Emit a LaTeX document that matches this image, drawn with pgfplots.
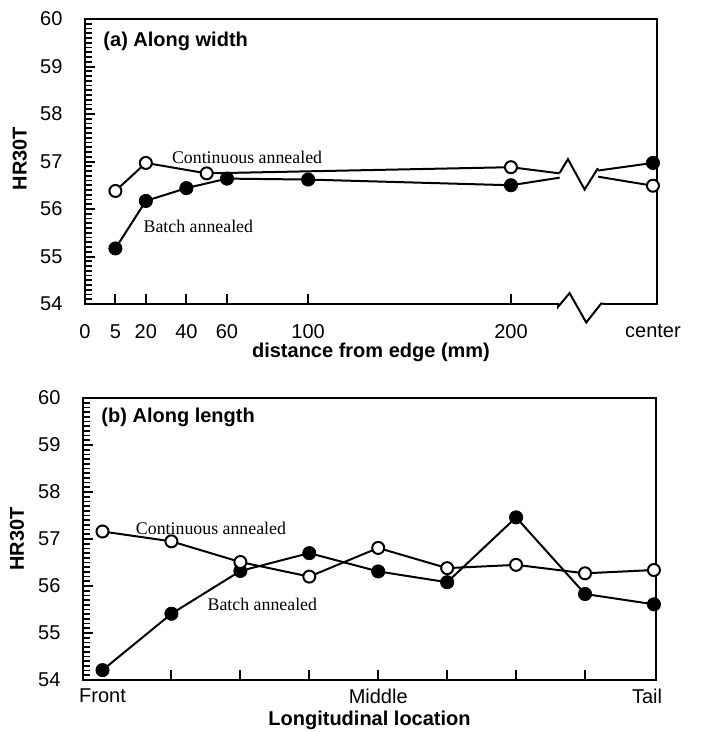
\documentclass[border=0pt]{standalone}
\usepackage{fontspec}
\setmainfont{Liberation Sans}
\newfontfamily\timesfont{Liberation Serif}
\usepackage{pgfplots}
\pgfplotsset{compat=1.18}

\pgfplotsset{
  hardness/.style={
    scale only axis,
    ymin=54, ymax=60, ytick={54,...,60},
    minor y tick num=9,
    tick align=inside, xtick pos=bottom, ytick pos=left,
    axis line style={line width=1.3pt},
    major tick style={line width=1.2pt, black},
    minor tick style={line width=1pt, black},
    major tick length=6pt, minor tick length=4pt,
    /pgf/number format/assume math mode=true,
    ticklabel style={font=\fontsize{12}{14}\selectfont},
    yticklabel style={xshift=-10pt},
    ylabel={HR30T},
    ylabel style={anchor=center, font=\bfseries\fontsize{12}{14}\selectfont},
    xlabel style={at={(axis description cs:0.5,0)}, anchor=center,
      font=\bfseries\fontsize{12}{14}\selectfont},
    clip=false,
    unbounded coords=jump,
  },
  ln/.style={black, line width=1.2pt, no marks},
  batch/.style={black, only marks, mark=*, mark size=4pt, mark options={fill=black, solid}},
  cont/.style={black, only marks, mark=*, mark size=3.6pt, mark options={fill=white, line width=1.2pt, solid}},
}
\tikzset{
  lbl/.style={anchor=west, font=\timesfont\fontsize{10.7}{12}\selectfont},
  ttl/.style={anchor=west, font=\bfseries\fontsize{12}{14}\selectfont},
}

\begin{document}
\begin{tikzpicture}
\path[use as bounding box] (-51pt,-256.8pt) rectangle (369.6pt,182.4pt);

% (a) along width
\begin{axis}[hardness, at={(0pt,0pt)}, anchor=south west,
  width=343.2pt, height=171pt,
  ylabel style={at={(axis description cs:-0.114,0.51)}},
  xmin=-10, xmax=272,
  xtick={5,20,40,60,100,200}, minor x tick num=0,
  extra x ticks={-10,270}, extra x tick labels={0,center},
  extra x tick style={major tick length=0pt},
  xticklabel style={yshift=-9pt},
  xlabel={distance from edge (mm)}, xlabel style={yshift=-29pt}]
% lines (broken at the axis break)
\addplot[ln] coordinates {(5,55.17) (20,56.17) (40,56.44) (60,56.64) (100,56.62) (200,56.5) (224,56.66) (233,nan) (243,56.81) (270,56.97)};
\addplot[ln] coordinates {(5,56.38) (20,56.97) (50,56.75) (200,56.88) (224,56.75) (233,nan) (243,56.68) (270,56.49)};
% axis break
\addplot[white, line width=3.5pt, no marks] coordinates {(223.6,54) (245.8,54)};
\addplot[ln] coordinates {(223.2,54) (223.2,53.94) (228.9,54.23) (237.1,53.61) (244.5,54.01) (246.2,54)};
\addplot[ln] coordinates {(224,56.76) (228.1,57.05) (236.3,56.41) (242.9,56.86)};
% markers
\addplot[batch] coordinates {(5,55.17) (20,56.17) (40,56.44) (60,56.64) (100,56.62) (200,56.5) (270,56.97)};
\addplot[cont] coordinates {(5,56.38) (20,56.97) (50,56.75) (200,56.88) (270,56.49)};
\node[ttl] at (axis description cs:0.022,0.92) {(a) Along width};
\node[lbl] at (axis cs:30,57.09) {Continuous annealed};
\node[lbl] at (axis cs:16,55.64) {Batch annealed};
\end{axis}

% (b) along length
\begin{axis}[hardness, at={(-1.2pt,-225.6pt)}, anchor=south west,
  width=343.8pt, height=169.2pt,
  ylabel style={at={(axis description cs:-0.115,0.5)}},
  xmin=-0.283, xmax=8.03,
  xtick={1,...,7}, xticklabels={}, minor x tick num=0,
  extra x ticks={0,4,7.9}, extra x tick labels={Front,Middle,Tail},
  extra x tick style={major tick length=0pt},
  xticklabel style={yshift=-2pt},
  xlabel={Longitudinal location}, xlabel style={yshift=-24pt}]
\addplot[ln] coordinates {(0,54.21) (1,55.41) (2,56.32) (3,56.7) (4,56.31) (5,56.08) (6,57.46) (7,55.83) (8,55.61)};
\addplot[ln] coordinates {(0,57.16) (1,56.95) (2,56.51) (3,56.2) (4,56.81) (5,56.38) (6,56.45) (7,56.27) (8,56.34)};
\addplot[batch] coordinates {(0,54.21) (1,55.41) (2,56.32) (3,56.7) (4,56.31) (5,56.08) (6,57.46) (7,55.83) (8,55.61)};
\addplot[cont] coordinates {(0,57.16) (1,56.95) (2,56.51) (3,56.2) (4,56.81) (5,56.38) (6,56.45) (7,56.27) (8,56.34)};
\node[ttl] at (axis description cs:0.022,0.93) {(b) Along length};
\node[lbl] at (axis cs:0.40,57.23) {Continuous annealed};
\node[lbl] at (axis cs:1.44,55.6) {Batch annealed};
\end{axis}
\end{tikzpicture}
\end{document}
